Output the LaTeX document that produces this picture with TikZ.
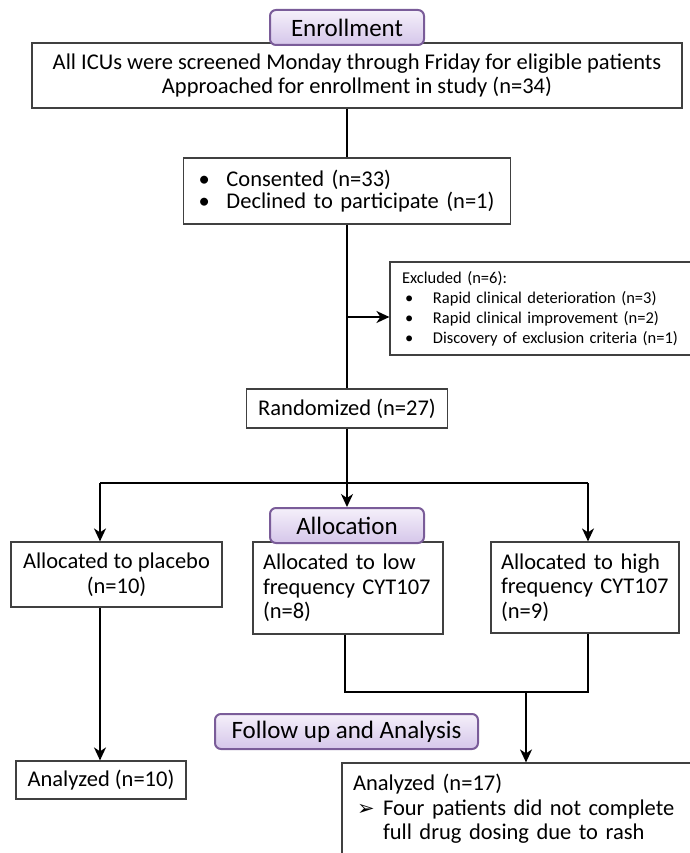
\documentclass[tikz,border=0pt]{standalone}
\usepackage{fontspec}
\setmainfont{Carlito}
\newfontfamily\dingfont{DejaVu Sans}
\usetikzlibrary{arrows.meta}

\definecolor{stageline}{HTML}{7A5C99}
\definecolor{stagetop}{HTML}{F5F0FA}
\definecolor{stagebot}{HTML}{D5C6EA}
\definecolor{boxline}{HTML}{404040}

\begin{document}
\begin{tikzpicture}[x=1pt, y=-1pt,
    every node/.style={inner sep=0pt, font=\fontsize{22.5}{24.5}\selectfont},
    box/.style={draw=boxline, line width=1.2pt, fill=white},
    stage/.style={draw=stageline, line width=2pt, rounded corners=6pt,
        top color=stagetop, bottom color=stagebot,
        minimum height=35pt, font=\fontsize{25}{28}\selectfont},
    link/.style={line width=1.8pt},
    arrow/.style={link, -{Stealth[length=13pt, width=12pt, inset=4pt]}}]
    \useasboundingbox (0,0) rectangle (689,853);

    % boxes
    \node[box, minimum width=650pt, minimum height=65pt, align=center] (screen) at (357,75.5)
        {All ICUs were screened Monday through Friday for eligible patients\\Approached for enrollment in study (n=34)};
    \node[box, minimum width=327pt, minimum height=66pt, inner xsep=15pt, text width=297pt, align=left,
        font=\fontsize{22.5}{22.5}\selectfont] (consent) at (347,191)
        {\makebox[28pt][l]{\textbullet}Consented (n=33)\\\makebox[28pt][l]{\textbullet}Declined to participate (n=1)};
    \node[box, minimum width=320pt, minimum height=93pt, inner xsep=12pt, text width=296pt, align=left,
        font=\fontsize{16.5}{20}\selectfont] (excl) at (550,308.5)
        {Excluded (n=6):\\
         \hspace*{3pt}\makebox[28pt][l]{\textbullet}Rapid clinical deterioration (n=3)\\
         \hspace*{3pt}\makebox[28pt][l]{\textbullet}Rapid clinical improvement (n=2)\\
         \hspace*{3pt}\makebox[28pt][l]{\textbullet}Discovery of exclusion criteria (n=1)};
    \node[box, minimum width=201pt, minimum height=39pt] (rand) at (347,408.5) {Randomized (n=27)};
    \node[box, minimum width=211pt, minimum height=65pt, align=center] (placebo) at (116.5,574.5)
        {Allocated to placebo\\(n=10)};
    \node[box, minimum width=190pt, minimum height=92pt, inner xsep=10pt, text width=170pt, align=left] (low) at (348,588)
        {Allocated to low\\frequency CYT107\\(n=8)};
    \node[box, minimum width=188pt, minimum height=91pt, inner xsep=10pt, text width=168pt, align=left] (high) at (585,587.5)
        {Allocated to high\\frequency CYT107\\(n=9)};
    \node[box, minimum width=170pt, minimum height=38pt] (an10) at (101,780) {Analyzed (n=10)};
    \node[box, minimum width=350pt, minimum height=92pt, inner xsep=11pt, text width=328pt, align=left] (an17) at (517,809)
        {Analyzed (n=17)\\
         \hspace*{4pt}\makebox[26pt][l]{\dingfont\fontsize{21}{21}\selectfont ➢}Four patients did not complete\\
         \hspace*{30pt}full drug dosing due to rash};

    % stage labels
    \node[stage, minimum width=154pt] (enrol) at (347,27.5) {Enrollment};
    \node[stage, minimum width=154pt] (alloc) at (347,525.5) {Allocation};
    \node[stage, minimum width=263pt] (follow) at (346.5,731.5) {Follow up and Analysis};

    % junctions
    \coordinate (split) at (347,317);
    \coordinate (forkL) at (100,483);
    \coordinate (forkR) at (588,483);
    \coordinate (mergeL) at (345,692);
    \coordinate (mergeR) at (588,692);
    \coordinate (merge) at (526,692);

    % connectors
    \draw[link] (screen.south -| consent) -- (consent);
    \draw[link] (consent) -- (rand);
    \draw[arrow] (split) -- (split -| excl.west);
    \draw[arrow] (rand) -- (alloc);
    \draw[link] (forkL) -- (forkR);
    \foreach \fork/\to in {forkL/placebo, forkR/high}
        \draw[arrow] (\fork) -- (\fork |- \to.north);
    \draw[arrow] (forkL |- placebo.south) -- (forkL |- an10.north);
    \draw[link] (mergeL |- low.south) -- (mergeL) -- (mergeR) -- (mergeR |- high.south);
    \draw[arrow] (merge) -- (merge |- an17.north);
\end{tikzpicture}
\end{document}
